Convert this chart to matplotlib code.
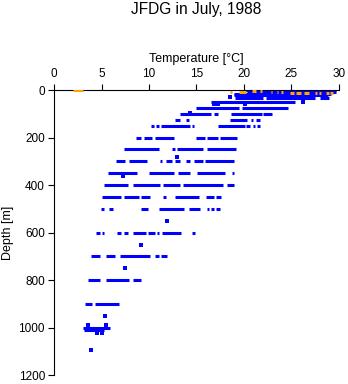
import matplotlib
matplotlib.use('Agg')
import matplotlib.pyplot as plt

plt.rcParams['font.family'] = ['Liberation Sans', 'DejaVu Sans']

# blue casts: horizontal runs of dense readings (depth m, temp from, temp to)
run_depth = [0, 8, 15, 22, 35, 35, 35,
             50, 75, 75,
             100, 100, 100, 100,
             125, 125, 125, 125, 125,
             150, 150, 150, 150, 150, 150, 150, 150,
             200, 200, 200, 200, 200, 200,
             250, 250, 250, 250,
             300, 300, 300, 300, 300, 300, 300, 300,
             350, 350, 350, 350, 350,
             400, 400, 400, 400, 400,
             450, 450, 450, 450, 450, 450, 450,
             500, 500, 500, 500, 500, 500, 500, 500,
             600, 600, 600, 600, 600, 600, 600, 600, 600,
             700, 700, 700, 700, 700,
             800, 800, 800,
             900, 900,
             1004, 1010]
run_tmin = [20.0, 20.3, 19.0, 19.0, 19.1, 22.3, 28.0,
            16.5, 15.0, 19.8,
            13.3, 16.8, 18.6, 22.0,
            12.7, 13.9, 18.5, 20.7, 21.3,
            10.2, 10.7, 11.3, 14.5, 17.3, 20.2, 20.9, 21.4,
            8.6, 9.5, 10.6, 15.0, 16.1, 17.5,
            7.4, 12.4, 13.0, 16.1,
            6.5, 7.9, 11.2, 11.8, 12.7, 13.9, 14.7, 15.9,
            5.7, 10.0, 13.1, 15.1, 18.7,
            5.3, 8.3, 11.5, 13.6, 18.2,
            5.1, 7.4, 9.2, 11.5, 12.7, 16.0, 17.1,
            4.9, 5.8, 9.2, 11.1, 14.2, 16.1, 16.5, 17.1,
            4.4, 5.0, 6.6, 7.4, 8.3, 9.9, 10.8, 11.4, 14.5,
            3.9, 5.5, 6.9, 10.6, 11.3,
            3.6, 5.5, 8.3,
            3.3, 4.3,
            3.1, 3.2]
run_tmax = [29.7, 29.7, 29.2, 28.8, 22.0, 27.5, 28.9,
            25.4, 19.5, 24.6,
            16.5, 17.3, 21.9, 23.0,
            13.3, 14.2, 20.3, 21.0, 21.7,
            10.5, 11.0, 14.3, 14.7, 20.1, 20.6, 21.2, 21.7,
            9.2, 10.3, 12.6, 15.9, 17.3, 19.3,
            11.0, 12.7, 15.7, 19.2,
            7.5, 9.8, 11.4, 12.4, 13.3, 14.3, 15.7, 18.9,
            8.7, 12.6, 14.3, 18.0, 18.9,
            7.8, 11.2, 13.3, 17.8, 18.9,
            7.1, 8.9, 10.1, 11.8, 15.3, 16.8, 17.6,
            5.3, 6.2, 9.9, 13.7, 15.4, 16.3, 16.8, 17.5,
            4.8, 5.3, 7.0, 7.8, 9.7, 10.6, 11.1, 13.4, 14.8,
            4.8, 6.4, 10.1, 11.1, 11.9,
            4.8, 7.9, 9.2,
            4.0, 6.8,
            5.9, 5.3]

# blue single readings
pt_depth = [31, 58, 58, 58, 50, 95, 281, 361, 551, 651, 751, 950,
            990, 990, 1022, 1022, 1095]
pt_temp = [18.5, 16.8, 17.3, 20.1, 26.2, 14.3, 13.0, 7.3, 11.9, 9.2, 7.5, 5.4,
           3.6, 5.5, 4.5, 5.0, 3.9]

# orange surface readings
or_depth = [0, 10, 9, 5, 6, 10, 10, 10, 12, 12, 13, 12, 12, 12, 12]
or_tmin = [2.0, 18.5, 19.5, 20.8, 21.7, 22.8, 23.5, 23.9, 24.8, 25.5, 26.3,
           27.5, 27.9, 28.6, 29.1]
or_tmax = [3.1, 18.7, 20.2, 21.3, 21.9, 23.0, 23.6, 24.1, 25.3, 26.0, 26.8,
           27.7, 28.1, 28.9, 29.4]

fig = plt.figure(figsize=(3.48, 3.84), dpi=100)
ax = fig.add_axes([0.1552, 0.0234, 0.8189, 0.7422])

ax.hlines(run_depth, run_tmin, run_tmax, colors='#0000ff', linewidth=2.2, zorder=2)
ax.scatter(pt_temp, pt_depth, s=6, marker='s', color='#0000ff', linewidths=0, zorder=2)
ax.hlines(or_depth, or_tmin, or_tmax, colors='#ffa500', linewidth=2.2, zorder=3)

ax.set_xlim(0, 30)
ax.set_ylim(1200, 0)
ax.set_xticks(range(0, 31, 5))
ax.set_yticks(range(0, 1201, 200))
ax.xaxis.tick_top()
ax.xaxis.set_label_position('top')
ax.spines['right'].set_visible(False)
ax.spines['bottom'].set_visible(False)
ax.spines['top'].set_linewidth(0.8)
ax.spines['left'].set_linewidth(0.8)
ax.tick_params(axis='both', length=4.5, width=0.8, labelsize=8.5, pad=2, direction='out')
ax.tick_params(axis='x', pad=3)
ax.set_xlabel('Temperature [°C]', fontsize=9, labelpad=4)
ax.set_ylabel('Depth [m]', fontsize=9, labelpad=3)

fig.suptitle('JFDG in July, 1988', x=0.565, y=0.995, fontsize=11.2)

fig.savefig('out.png', dpi=100)
